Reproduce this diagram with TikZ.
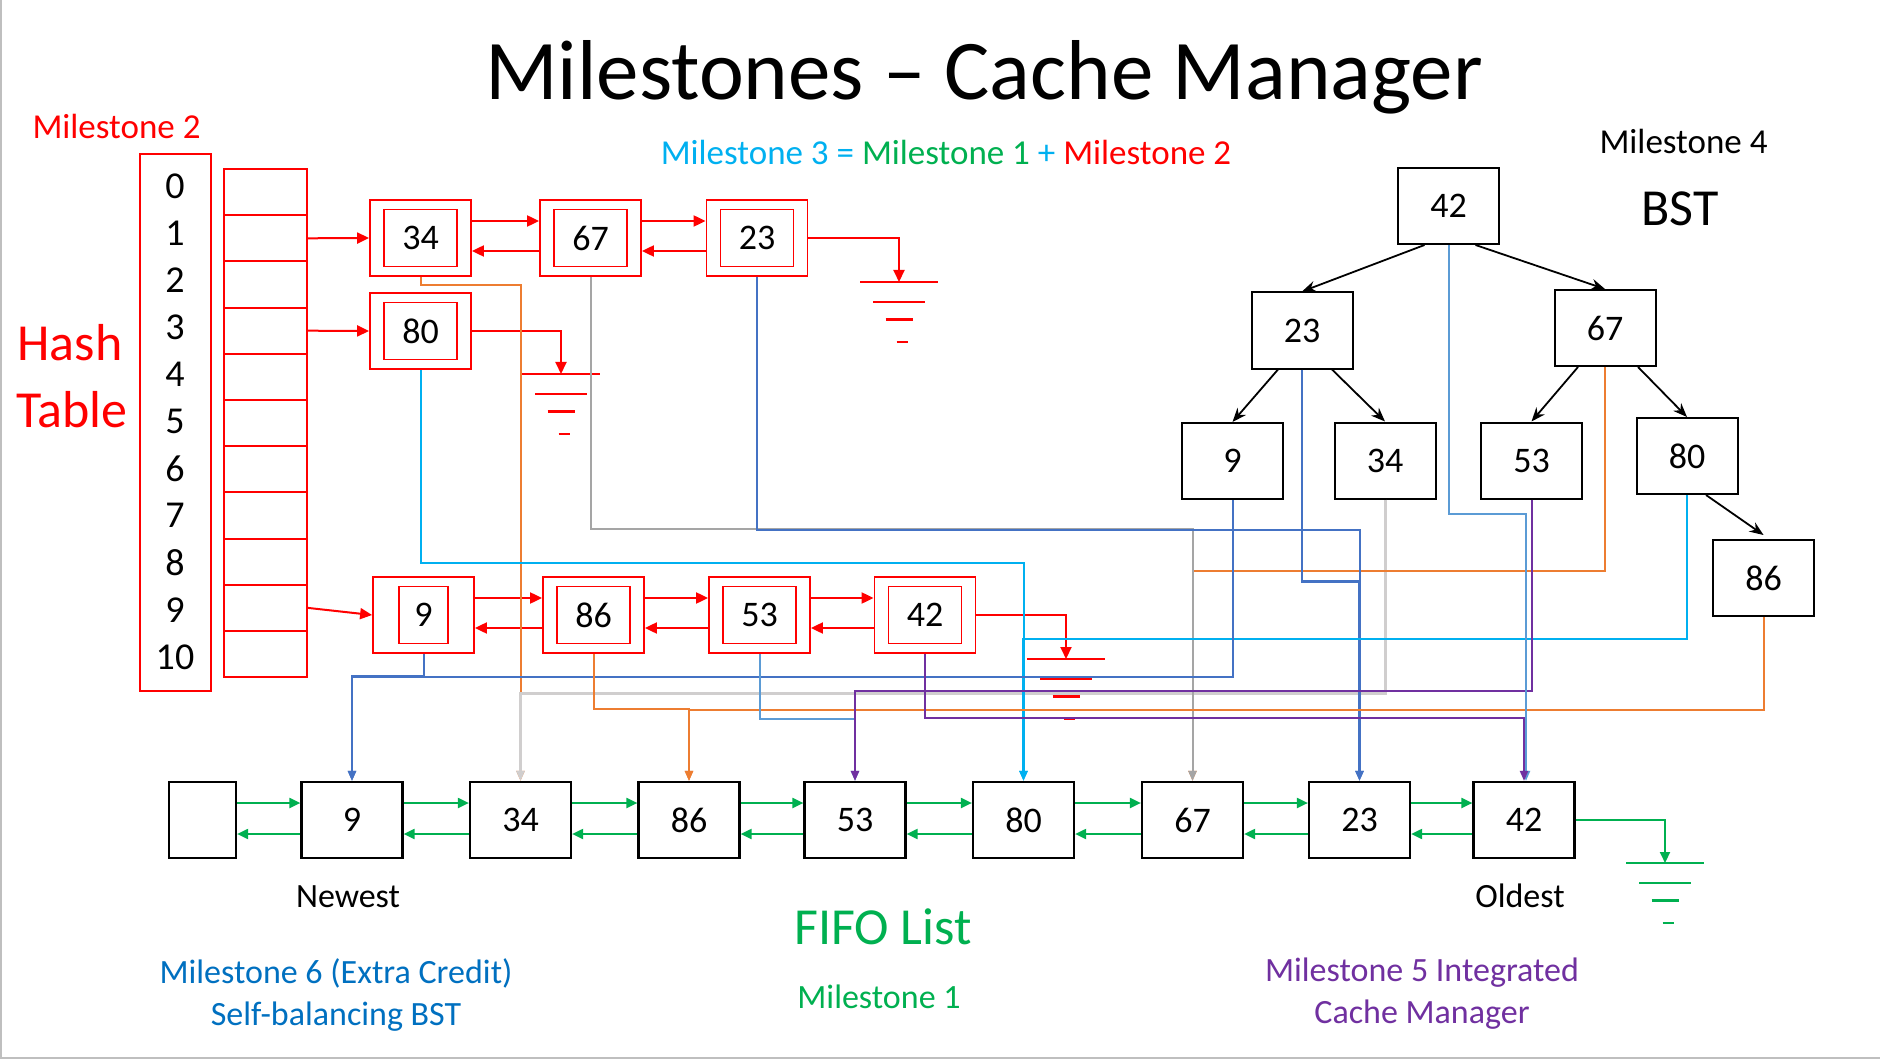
\documentclass[tikz,border=0pt]{standalone}
\usepackage{fontspec}
\setmainfont{Carlito}
\usepackage{tikz}
\usetikzlibrary{arrows.meta}

\definecolor{msred}{HTML}{FF0000}
\definecolor{msgreen}{HTML}{00B050}
\definecolor{mscyan}{HTML}{00B0F0}
\definecolor{msblue}{HTML}{4472C4}
\definecolor{mslblue}{HTML}{5B9BD5}
\definecolor{msorange}{HTML}{ED7D31}
\definecolor{msgray}{HTML}{A5A5A5}
\definecolor{mslgray}{HTML}{D0CECE}
\definecolor{mspurple}{HTML}{7030A0}
\definecolor{msdblue}{HTML}{0070C0}
\newcommand{\fsz}[1]{\fontsize{#1}{#1}\selectfont}

\tikzset{
	earth/.pic={
		\draw (-39,0) -- (39,0);
		\draw (-26,20) -- (26,20);
		\draw (-13.5,37.5) -- (13.5,37.5);
		\draw (-2.5,60) -- (8.5,60);
	},
	link/.style={line width=2pt, -{Triangle[length=10pt,width=8pt]}}
}

\begin{document}
\begin{tikzpicture}[x=1pt,y=-1pt]
	\useasboundingbox (0,0) rectangle (1880,1059);
	\fill[white] (0,0) rectangle (1880,1059);
	\draw[black!25, line width=2pt] (1,0) -- (1,1058) -- (1880,1058);

	\node[anchor=base, font=\fsz{85}] (title) at (984,100) {Milestones – Cache Manager};
	\node[anchor=base west, font=\fsz{35}, text=msred] (ms2) at (29,139) {Milestone 2};
	\node[anchor=base, font=\fsz{35}] (ms3) at (946,165) {\color{mscyan}Milestone 3 = \color{msgreen}Milestone 1 \color{mscyan}+ \color{msred}Milestone 2};
	\node[anchor=base west, font=\fsz{35}] (ms4) at (1596,154) {Milestone 4};
	\node[anchor=base west, font=\fsz{52}] (bst) at (1638,226) {BST};
	\node[anchor=base, font=\fsz{52}, text=msred] (hashA) at (70,360) {Hash};
	\node[anchor=base, font=\fsz{52}, text=msred] (hashB) at (72,427) {Table};

	% hash table
	\node[draw=msred, line width=1.6pt, minimum width=71pt, minimum height=537pt, inner sep=0pt] (idx) at (175.5,422.5) {};
	\foreach \i in {0,...,10}
		\node[font=\fsz{38}] (i\i) at (175,{186+47.1*\i}) {\i};
	\begin{scope}[every node/.style={draw=msred, line width=2pt, minimum width=83pt, minimum height=46.2pt, inner sep=0pt}]
		\foreach \i in {0,...,10}
			\node (b\i) at (265.5,{192.1+46.2*\i}) {};
	\end{scope}

	\begin{scope}[every node/.style={draw=msred, line width=1.8pt, minimum width=101pt, minimum height=76pt, inner sep=0pt}]
		\node (h34) at (420.5,238) {};
		\node (h67) at (590.5,238) {};
		\node (h23) at (757,238) {};
		\node (h80) at (420.5,331) {};
		\node (h9) at (423.5,615) {};
		\node (h86) at (593.5,615) {};
		\node (h53) at (759.5,615) {};
		\node (h42) at (925,615) {};
	\end{scope}
	\begin{scope}[every node/.style={draw=msred, line width=1.4pt, minimum width=73pt, minimum height=57pt, inner sep=0pt, font=\fsz{36}}]
		\node (h34in) at (h34) {34};
		\node (h67in) at (h67) {67};
		\node (h23in) at (h23) {23};
		\node (h80in) at (h80) {80};
		\node[minimum width=49pt] (h9in) at (h9) {9};
		\node (h86in) at (h86) {86};
		\node (h53in) at (h53) {53};
		\node (h42in) at (h42) {42};
	\end{scope}

	\coordinate (gr23) at (899,282);
	\coordinate (gr80) at (561,374);
	\coordinate (gr42) at (1066,659);
	\coordinate (grf) at (1665,863);

	\begin{scope}[msred, line width=2pt, -{Triangle[length=12pt,width=11pt]}]
		\draw (b1.east) -- (h34.west);
		\draw (b3.east) -- (h80.west);
		\draw (b9.east) -- (h9.west);
		\foreach \a/\b in {h34/h67, h67/h23, h9/h86, h86/h53, h53/h42} {
			\draw ([yshift=17pt]\a.east) -- ([yshift=17pt]\b.west);
			\draw ([yshift=-13pt]\b.west) -- ([yshift=-13pt]\a.east);
		}
		\draw (h23.east) -| (gr23);
		\draw (h80.east) -| (gr80);
		\draw (h42.east) -| (gr42);
	\end{scope}
	\pic[msred, line width=2.5pt] at (gr23) {earth};
	\pic[msred, line width=2.5pt] at (gr80) {earth};
	\pic[msred, line width=2.5pt] at (gr42) {earth};

	% bst
	\begin{scope}[every node/.style={draw, line width=2pt, minimum width=101pt, minimum height=76pt, inner sep=0pt, font=\fsz{36}}]
		\node (t42) at (1448.5,206) {42};
		\node (t23) at (1302,330.5) {23};
		\node (t67) at (1605,328) {67};
		\node (t9) at (1232.5,461) {9};
		\node (t34) at (1385,460.5) {34};
		\node (t53) at (1531.5,460.5) {53};
		\node (t80) at (1687,456) {80};
		\node (t86) at (1763.5,578) {86};
	\end{scope}
	\begin{scope}[>={Stealth[length=14pt,width=11pt]},
			every edge/.style={draw=black, line width=1.8pt}]
		\path [->] ([xshift=-24pt]t42.south) edge (t23.north);
		\path [->] ([xshift=27pt]t42.south) edge (t67.north);
		\path [->] ([xshift=-24pt]t23.south) edge (t9.north);
		\path [->] ([xshift=30pt]t23.south) edge (t34.north);
		\path [->] ([xshift=-27pt]t67.south) edge (t53.north);
		\path [->] ([xshift=33pt]t67.south) edge (t80.north);
		\path [->] ([xshift=19pt]t80.south) edge ([yshift=4pt]t86.north);
	\end{scope}

	% fifo list
	\begin{scope}[every node/.style={draw, line width=2.2pt, minimum width=101pt, minimum height=76pt, inner sep=0pt, font=\fsz{36}}]
		\node[minimum width=67pt] (f0) at (202.5,820) {};
		\node (f9) at (352,820) {9};
		\node (f34) at (520.5,820) {34};
		\node (f86) at (689,820) {86};
		\node (f53) at (855,820) {53};
		\node (f80) at (1023.5,820) {80};
		\node (f67) at (1192.5,820) {67};
		\node (f23) at (1359.5,820) {23};
		\node (f42) at (1524,820) {42};
	\end{scope}
	\begin{scope}[msgreen, line width=2pt, -{Triangle[length=11pt,width=10pt]}]
		\foreach \a/\b in {f0/f9, f9/f34, f34/f86, f86/f53, f53/f80, f80/f67, f67/f23, f23/f42} {
			\draw ([yshift=17pt]\a.east) -- ([yshift=17pt]\b.west);
			\draw ([yshift=-14pt]\b.west) -- ([yshift=-14pt]\a.east);
		}
		\draw (f42.east) -| (grf);
	\end{scope}
	\pic[msgreen, line width=2.5pt] at (grf) {earth};

	% milestone 3 and 5 links
	\draw[link, msorange] (h34.south) -- ++(0,8) -| (f34.north);
	\draw[link, mslgray, line width=3pt] (t34.south) -- ++(0,194) -| (f34.north);
	\draw[link, msorange] (t67.south) -- ++(0,204) -| (f67.north);
	\draw[link, msgray] (h67.south) -- ++(0,252) -| (f67.north);
	\draw[link, msblue] (h23.south) -- ++(0,253) -| (f23.north);
	\draw[link, msblue, line width=2.6pt] (t23.south) -- ++(0,212) -| (f23.north);
	\draw[link, mscyan] (h80.south) -- ++(0,193) -| (f80.north);
	\draw[link, mscyan, line width=2.6pt] (t80.south) -- ++(0,144) -| (f80.north);
	\draw[link, msblue] (h9.south) -- ++(0,22) -| (f9.north);
	\draw[link, msblue] (t9.south) -- ++(0,177) -| (f9.north);
	\draw[link, msorange] (h86.south) -- ++(0,55) -| (f86.north);
	\draw[link, msorange] (t86.south) -- ++(0,93) -| (f86.north);
	\draw[link, mslblue] (h53.south) -- ++(0,65) -| (f53.north);
	\draw[link, mspurple] (t53.south) -- ++(0,191) -| (f53.north);
	\draw[link, mslblue] (t42.south) -- ++(0,269) -| ([xshift=2pt]f42.north);
	\draw[link, mspurple] (h42.south) -- ++(0,64) -| (f42.north);

	% captions
	\node[anchor=base, font=\fsz{34}] (newest) at (348,907) {Newest};
	\node[anchor=base, font=\fsz{34}] (oldest) at (1520,907) {Oldest};
	\node[anchor=base, font=\fsz{52}, text=msgreen] (fifo) at (883,944) {FIFO List};
	\node[anchor=base, font=\fsz{34}, text=msgreen] (ms1) at (879,1008) {Milestone 1};
	\node[anchor=base, font=\fsz{34}, text=msdblue] (ms6a) at (336,983) {Milestone 6 (Extra Credit)};
	\node[anchor=base, font=\fsz{34}, text=msdblue] (ms6b) at (336,1025) {Self-balancing BST};
	\node[anchor=base, font=\fsz{34}, text=mspurple] (ms5a) at (1422,981) {Milestone 5 Integrated};
	\node[anchor=base, font=\fsz{34}, text=mspurple] (ms5b) at (1422,1023) {Cache Manager};
\end{tikzpicture}
\end{document}
